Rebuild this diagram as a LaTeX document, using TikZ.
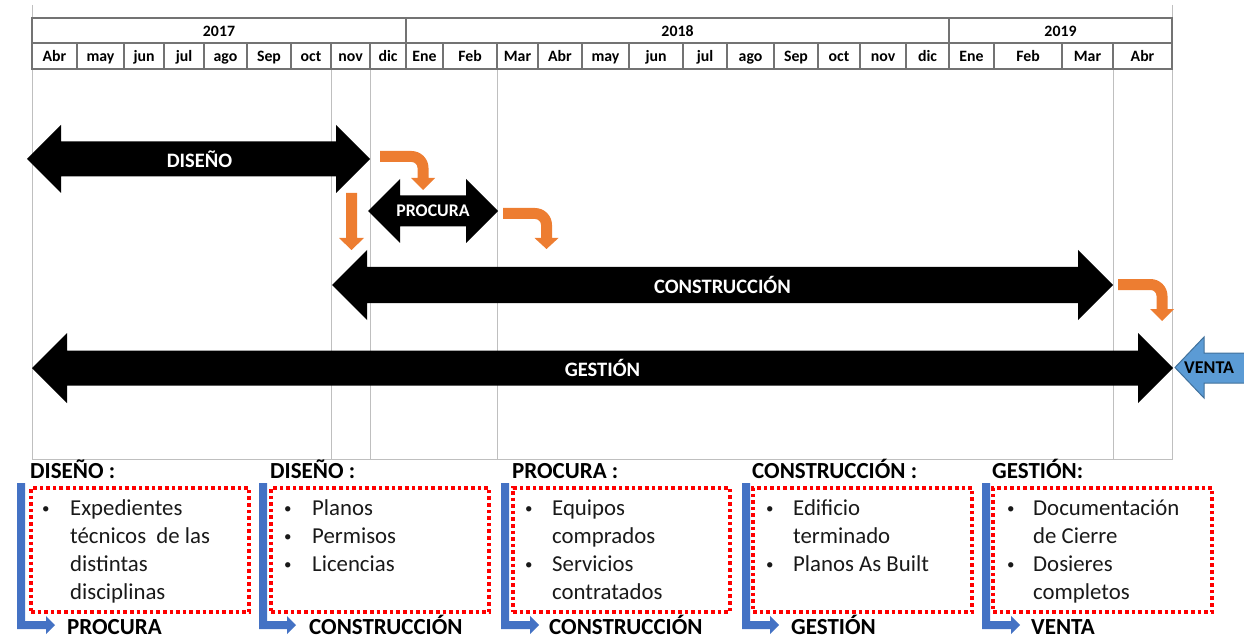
\documentclass[tikz,border=0pt]{standalone}
\usepackage{fontspec}
\setmainfont{Carlito}
\definecolor{orarrow}{HTML}{ED7D31}
\definecolor{lblue}{HTML}{4472C4}
\definecolor{ventafill}{HTML}{5B9BD5}
\definecolor{ventaline}{HTML}{41719C}

% double-headed block arrow: x1, x2, y centre, head half-height, shaft half-height, head length
\newcommand\blockdbl[6]{%
  \fill[black] (#1,#3) -- ({#1+#6},{#3-#4}) -- ({#1+#6},{#3-#5}) -- ({#2-#6},{#3-#5})
    -- ({#2-#6},{#3-#4}) -- (#2,#3) -- ({#2-#6},{#3+#4}) -- ({#2-#6},{#3+#5})
    -- ({#1+#6},{#3+#5}) -- ({#1+#6},{#3+#4}) -- cycle;}

% orange bent arrow: x start, y top, x of vertical bar centre, y head, y tip, outer radius
\newcommand\bentarw[6]{%
  \pgfmathsetmacro\bxr{#3+5.5}\pgfmathsetmacro\bxl{#3-5.5}%
  \pgfmathsetmacro\byb{#2+11}\pgfmathsetmacro\bri{#6-11}%
  \fill[orarrow] (#1,#2) -- ({\bxr-#6},#2) arc[start angle=-90,end angle=0,radius=#6]
    -- (\bxr,#4) -- ({#3+12},#4) -- (#3,#5) -- ({#3-12},#4) -- (\bxl,#4)
    -- (\bxl,{\byb+\bri}) arc[start angle=0,end angle=-90,radius=\bri] -- (#1,\byb) -- cycle;}

% blue L-shaped arrow: x of vertical bar, y top, x of tip
\newcommand\lbluearw[3]{%
  \fill[lblue] (#1,#2) -- ({#1+8},#2) -- ({#1+8},621) -- ({#3-9},621) -- ({#3-9},616)
    -- (#3,625) -- ({#3-9},634) -- ({#3-9},629) -- (#1,629) -- cycle;}

% small list bullet
\newcommand\lbul{\raisebox{1.5pt}{\fontsize{15}{15}\selectfont\textbullet}}

\begin{document}
\begin{tikzpicture}[x=1pt,y=-1pt,
  hdrline/.style={draw=black!55, line width=1.2pt},
  gridline/.style={draw=black!25, line width=1pt},
  hdrlbl/.style={anchor=base, inner sep=0, font=\bfseries\fontsize{15.8}{18}\selectfont},
  phaselbl/.style={text=white, inner sep=0, font=\bfseries\fontsize{20.5}{24}\selectfont},
  headlbl/.style={anchor=base west, inner sep=0, font=\bfseries\fontsize{23}{27}\selectfont},
  redbox/.style={draw=red, line width=3.6pt, dash pattern=on 3.6pt off 3pt,
    anchor=north west, outer sep=0, inner sep=0, minimum width=#1, minimum height=124pt},
  boxtext/.style={anchor=base west, inner sep=0, text=black!90,
    font=\fontsize{22.8}{28}\selectfont}]
\useasboundingbox (0,0) rectangle (1244,644);
\clip (0,0) rectangle (1244,644);

% light grid of the chart area
\draw[gridline] (32,5) -- (32,459);
\draw[gridline] (1172,5) -- (1172,459);
\foreach \gx in {331,370,497,1113}
  \draw[gridline] (\gx,69) -- (\gx,459);
\draw[gridline] (32,459) -- (1173,459);

% calendar header
\draw[hdrline] (32,18) rectangle (1172,69);
\draw[hdrline] (32,43) -- (1172,43);
\draw[hdrline] (406,18) -- (406,43);
\draw[hdrline] (949,18) -- (949,43);
\foreach \mx in {77,124,164,204,247,291,331,370,406,443,497,538,582,629,683,727,774,818,860,906,949,994,1062,1113}
  \draw[hdrline] (\mx,43) -- (\mx,69);
\node[hdrlbl] (y2017) at (219,37) {2017};
\node[hdrlbl] (y2018) at (677.5,37) {2018};
\node[hdrlbl] (y2019) at (1060.5,37) {2019};
\foreach \a/\b/\m in {32/77/Abr,77/124/may,124/164/jun,164/204/jul,204/247/ago,
    247/291/Sep,291/331/oct,331/370/nov,370/406/dic,406/443/Ene,443/497/Feb,
    497/538/Mar,538/582/Abr,582/629/may,629/683/jun,683/727/jul,727/774/ago,
    774/818/Sep,818/860/oct,860/906/nov,906/949/dic,949/994/Ene,994/1062/Feb,
    1062/1113/Mar,1113/1172/Abr}
  \node[hdrlbl] (m\a) at ({(\a+\b)/2},62) {\m};

% phase bars
\blockdbl{27}{370}{159}{34}{17.5}{34}
\node[phaselbl] (dis) at (199.5,159) {DISEÑO};
\blockdbl{368}{498}{211}{32}{15.5}{32}
\node[phaselbl, font=\bfseries\fontsize{17.8}{21}\selectfont] (pro) at (433,211) {PROCURA};
\blockdbl{332}{1113}{285}{35}{18}{35}
\node[phaselbl] (con) at (722.5,285) {CONSTRUCCIÓN};
\blockdbl{32}{1173}{368}{35}{17.5}{35}
\node[phaselbl] (ges) at (602.5,368) {GESTIÓN};

% sale arrow entering from the right
\filldraw[fill=ventafill, draw=ventaline, line width=1pt]
  (1175,367.5) -- (1204,337) -- (1204,353) -- (1260,353) -- (1260,383)
  -- (1204,383) -- (1204,398) -- cycle;
\node[anchor=west, inner sep=0, font=\bfseries\fontsize{18}{21}\selectfont] (venta) at (1184,368) {VENTA};

% hand-over arrows between phases
\bentarw{380}{151}{423}{178}{190}{17}
\bentarw{503}{208}{546.5}{238}{249}{17}
\bentarw{1118}{279}{1162}{309}{321}{17}
\fill[orarrow] (346,193) -- (357,193) -- (357,238) -- (364,238) -- (351.5,250)
  -- (339,238) -- (346,238) -- cycle;

% deliverables per phase
\node[headlbl] (h1) at (30,478) {DISEÑO :};
\node[headlbl] (h2) at (270,478) {DISEÑO :};
\node[headlbl] (h3) at (512,478) {PROCURA :};
\node[headlbl] (h4) at (752,478) {CONSTRUCCIÓN :};
\node[headlbl] (h5) at (992,478) {GESTIÓN:};

\node[redbox=218pt] (b1) at (31,488) {};
\node[redbox=218pt] (b2) at (271,488) {};
\node[redbox=217pt] (b3) at (513,488) {};
\node[redbox=219pt] (b4) at (753,488) {};
\node[redbox=219pt] (b5) at (993,488) {};

\node[boxtext] (t1) at (42,515) {\begin{tabular}[t]{@{}p{28pt}@{}l@{}}
  \lbul & Expedientes\\ & técnicos\ \ de las\\ & distintas\\ & disciplinas\end{tabular}};
\node[boxtext] (t2) at (284,515) {\begin{tabular}[t]{@{}p{28pt}@{}l@{}}
  \lbul & Planos\\ \lbul & Permisos\\ \lbul & Licencias\end{tabular}};
\node[boxtext] (t3) at (525,515) {\begin{tabular}[t]{@{}p{27pt}@{}l@{}}
  \lbul & Equipos\\ & comprados\\ \lbul & Servicios\\ & contratados\end{tabular}};
\node[boxtext] (t4) at (766,515) {\begin{tabular}[t]{@{}p{27pt}@{}l@{}}
  \lbul & Edificio\\ & terminado\\ \lbul & Planos As Built\end{tabular}};
\node[boxtext] (t5) at (1007,515) {\begin{tabular}[t]{@{}p{26pt}@{}l@{}}
  \lbul & Documentación\\ & de Cierre\\ \lbul & Dosieres\\ & completos\end{tabular}};

\lbluearw{17}{483}{55}
\lbluearw{259}{483}{296}
\lbluearw{501}{483}{539}
\lbluearw{742}{483}{779}
\lbluearw{982}{483}{1020}

\node[headlbl] (n1) at (67,634) {PROCURA};
\node[headlbl] (n2) at (309,634) {CONSTRUCCIÓN};
\node[headlbl] (n3) at (549,634) {CONSTRUCCIÓN};
\node[headlbl] (n4) at (791,634) {GESTIÓN};
\node[headlbl] (n5) at (1031,634) {VENTA};
\end{tikzpicture}
\end{document}
